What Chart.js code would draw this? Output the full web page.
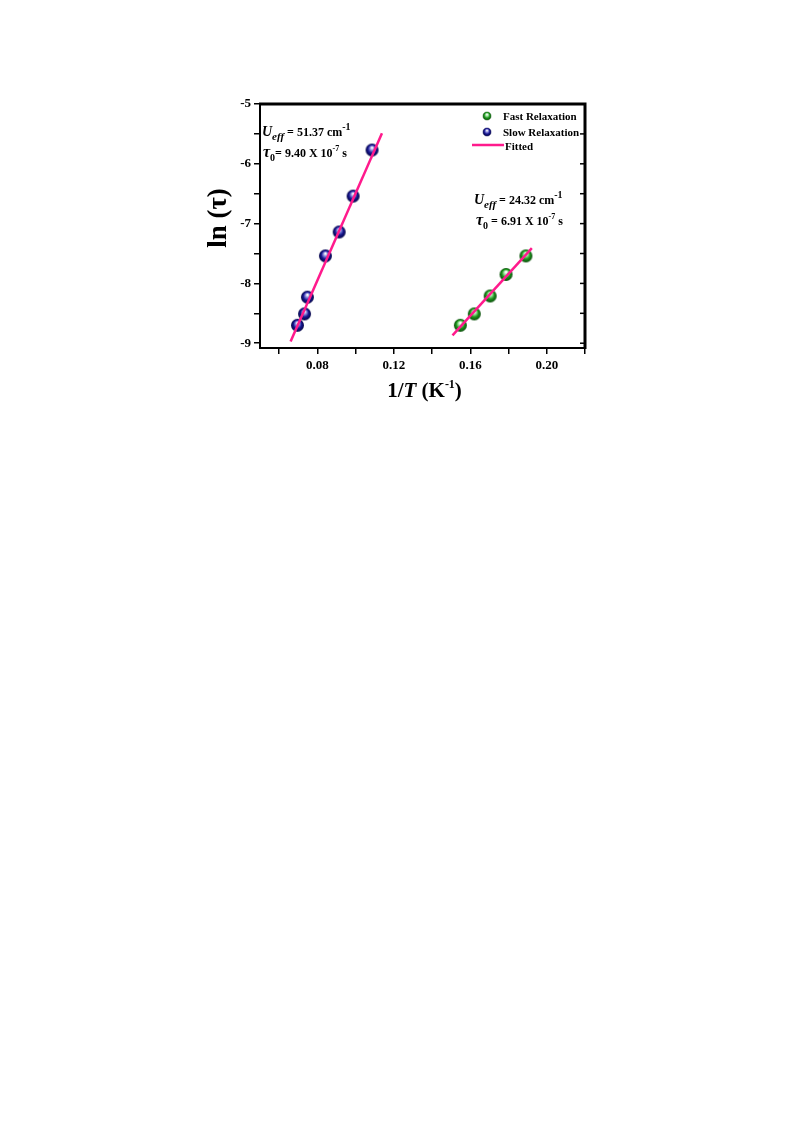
<!DOCTYPE html>
<html lang="en">
<head>
<meta charset="UTF-8">
<title>ln(tau) vs 1/T</title>
<style>
  html, body { margin: 0; padding: 0; background: #fff; }
  #c { display: block; }
</style>
</head>
<body>
<canvas id="c" width="793" height="1123"></canvas>
<script src="https://cdn.jsdelivr.net/npm/chart.js"></script>
<script>
// data
const slowX = [0.0696, 0.0733, 0.0748, 0.0842, 0.0914, 0.0987, 0.1086];
const slowY = [-8.70, -8.51, -8.23, -7.54, -7.14, -6.54, -5.77];
const fastX = [0.1548, 0.1621, 0.1704, 0.1787, 0.1891];
const fastY = [-8.70, -8.51, -8.21, -7.85, -7.54];
const slowFitX = [0.0660, 0.1138];
const slowFitY = [-8.97, -5.49];
const fastFitX = [0.1507, 0.1922];
const fastFitY = [-8.87, -7.41];
const xTickLabels = ['0.08', '0.12', '0.16', '0.20'];
const yTickLabels = ['-5', '-6', '-7', '-8', '-9'];

const SERIF = '"Liberation Serif", "DejaVu Serif", serif';
const PINK = '#ff1a8c';

function toPoints(xs, ys) {
  return xs.map((x, i) => ({ x: x, y: ys[i] }));
}

// little shaded balls used as point markers
function ball(base, mid, dark) {
  const s = 15, r = 6.5;
  const cv = document.createElement('canvas');
  cv.width = s; cv.height = s;
  const g = cv.getContext('2d');
  const grad = g.createRadialGradient(s / 2, s / 2 - 2.5, 0.5, s / 2, s / 2, r);
  grad.addColorStop(0, '#ffffff');
  grad.addColorStop(0.3, mid);
  grad.addColorStop(0.6, base);
  grad.addColorStop(1, dark);
  g.fillStyle = grad;
  g.beginPath();
  g.arc(s / 2, s / 2, r, 0, Math.PI * 2);
  g.fill();
  return cv;
}
const blueBall = ball('#16168f', '#7f7fd8', '#050545');
const greenBall = ball('#1c961c', '#92dc92', '#0a4a0a');

// draws a run of text pieces (bold / italic / sub / sup)
function runWidth(ctx, parts) {
  let w = 0;
  parts.forEach(p => {
    ctx.font = (p.i ? 'italic ' : '') + 'bold ' + p.s + 'px ' + SERIF;
    w += ctx.measureText(p.t).width;
  });
  return w;
}
function drawRun(ctx, x, y, parts, align) {
  if (align === 'center') x -= runWidth(ctx, parts) / 2;
  ctx.textAlign = 'left';
  ctx.textBaseline = 'alphabetic';
  ctx.fillStyle = '#000';
  parts.forEach(p => {
    ctx.font = (p.i ? 'italic ' : '') + 'bold ' + p.s + 'px ' + SERIF;
    ctx.fillText(p.t, x, y + (p.dy || 0));
    x += ctx.measureText(p.t).width;
  });
}

const decorations = {
  id: 'decorations',
  afterDatasetsDraw(chart) {
    const ctx = chart.ctx;
    const a = chart.chartArea;
    const ys = chart.scales.y;
    ctx.save();

    // top and right frame
    ctx.strokeStyle = '#000';
    ctx.lineWidth = 3;
    ctx.beginPath();
    ctx.moveTo(a.left - 1, a.top);
    ctx.lineTo(a.right, a.top);
    ctx.lineTo(a.right, a.bottom + 1);
    ctx.stroke();

    // inward ticks on the right side
    ctx.lineWidth = 1.5;
    ys.ticks.forEach(t => {
      const py = ys.getPixelForValue(t.value);
      ctx.beginPath();
      ctx.moveTo(a.right, py);
      ctx.lineTo(a.right - 5, py);
      ctx.stroke();
    });

    // legend
    ctx.drawImage(greenBall, 482, 111, 10, 10);
    ctx.drawImage(blueBall, 482, 127, 10, 10);
    ctx.strokeStyle = PINK;
    ctx.lineWidth = 2.5;
    ctx.beginPath();
    ctx.moveTo(472, 145);
    ctx.lineTo(504, 145);
    ctx.stroke();
    drawRun(ctx, 503, 120, [{ t: 'Fast Relaxation', s: 11 }]);
    drawRun(ctx, 503, 136, [{ t: 'Slow Relaxation', s: 11 }]);
    drawRun(ctx, 505, 150, [{ t: 'Fitted', s: 11 }]);

    // fit annotations
    drawRun(ctx, 262, 136, [
      { t: 'U', s: 14, i: true },
      { t: 'eff', s: 11, i: true, dy: 4 },
      { t: ' = 51.37 cm', s: 12 },
      { t: '-1', s: 10, dy: -6 }
    ]);
    drawRun(ctx, 263, 157, [
      { t: '\u03c4', s: 16, i: true },
      { t: '0', s: 10, dy: 4 },
      { t: '= 9.40 X 10', s: 12 },
      { t: '-7', s: 8, dy: -6 },
      { t: ' s', s: 12 }
    ]);
    drawRun(ctx, 474, 204, [
      { t: 'U', s: 14, i: true },
      { t: 'eff', s: 11, i: true, dy: 4 },
      { t: ' = 24.32 cm', s: 12 },
      { t: '-1', s: 10, dy: -6 }
    ]);
    drawRun(ctx, 476, 225, [
      { t: '\u03c4', s: 16, i: true },
      { t: '0', s: 10, dy: 4 },
      { t: ' = 6.91 X 10', s: 12 },
      { t: '-7', s: 8, dy: -6 },
      { t: ' s', s: 12 }
    ]);

    // axis titles
    drawRun(ctx, (a.left + a.right) / 2 + 2, 397, [
      { t: '1/', s: 21 },
      { t: 'T', s: 21, i: true },
      { t: ' (K', s: 21 },
      { t: '-1', s: 12, dy: -9 },
      { t: ')', s: 21 }
    ], 'center');

    ctx.translate(226, 218);
    ctx.rotate(-Math.PI / 2);
    drawRun(ctx, 0, 0, [{ t: 'ln (\u03c4)', s: 27 }], 'center');

    ctx.restore();
  }
};

new Chart(document.getElementById('c'), {
  type: 'scatter',
  data: {
    datasets: [
      {
        label: 'Fitted (slow)',
        data: toPoints(slowFitX, slowFitY),
        showLine: true,
        borderColor: PINK,
        borderWidth: 2.5,
        pointRadius: 0,
        order: 0
      },
      {
        label: 'Fitted (fast)',
        data: toPoints(fastFitX, fastFitY),
        showLine: true,
        borderColor: PINK,
        borderWidth: 2.5,
        pointRadius: 0,
        order: 0
      },
      {
        label: 'Slow Relaxation',
        data: toPoints(slowX, slowY),
        pointStyle: blueBall,
        order: 1
      },
      {
        label: 'Fast Relaxation',
        data: toPoints(fastX, fastY),
        pointStyle: greenBall,
        order: 1
      }
    ]
  },
  options: {
    responsive: false,
    animation: false,
    layout: { padding: { left: 0, top: 104, right: 208, bottom: 745 } },
    plugins: {
      legend: { display: false },
      tooltip: { enabled: false }
    },
    scales: {
      x: {
        type: 'linear',
        min: 0.05,
        max: 0.22,
        afterFit(scale) { scale.height = 30; },
        afterBuildTicks(scale) {
          const out = [];
          for (let v = 0.06; v <= 0.2201; v += 0.02) out.push({ value: Math.round(v * 100) / 100 });
          scale.ticks = out;
        },
        border: { display: true, color: '#000', width: 2 },
        grid: { drawOnChartArea: false, drawTicks: true, tickLength: 6, color: '#000', lineWidth: 1.5 },
        ticks: {
          color: '#000',
          padding: 4,
          maxRotation: 0,
          autoSkip: false,
          font: { family: SERIF, size: 13, weight: 'bold' },
          callback: v => {
            const s = v.toFixed(2);
            return xTickLabels.includes(s) ? s : '';
          }
        }
      },
      y: {
        type: 'linear',
        min: -9.08,
        max: -5,
        afterFit(scale) { scale.width = 260; },
        afterBuildTicks(scale) {
          const out = [];
          for (let v = -9; v <= -4.999; v += 0.5) out.push({ value: v });
          scale.ticks = out;
        },
        border: { display: true, color: '#000', width: 2 },
        grid: { drawOnChartArea: false, drawTicks: true, tickLength: 6, color: '#000', lineWidth: 1.5 },
        ticks: {
          color: '#000',
          padding: 3,
          autoSkip: false,
          font: { family: SERIF, size: 13, weight: 'bold' },
          callback: v => {
            const s = String(v);
            return yTickLabels.includes(s) ? s : '';
          }
        }
      }
    }
  },
  plugins: [decorations]
});
</script>
</body>
</html>
